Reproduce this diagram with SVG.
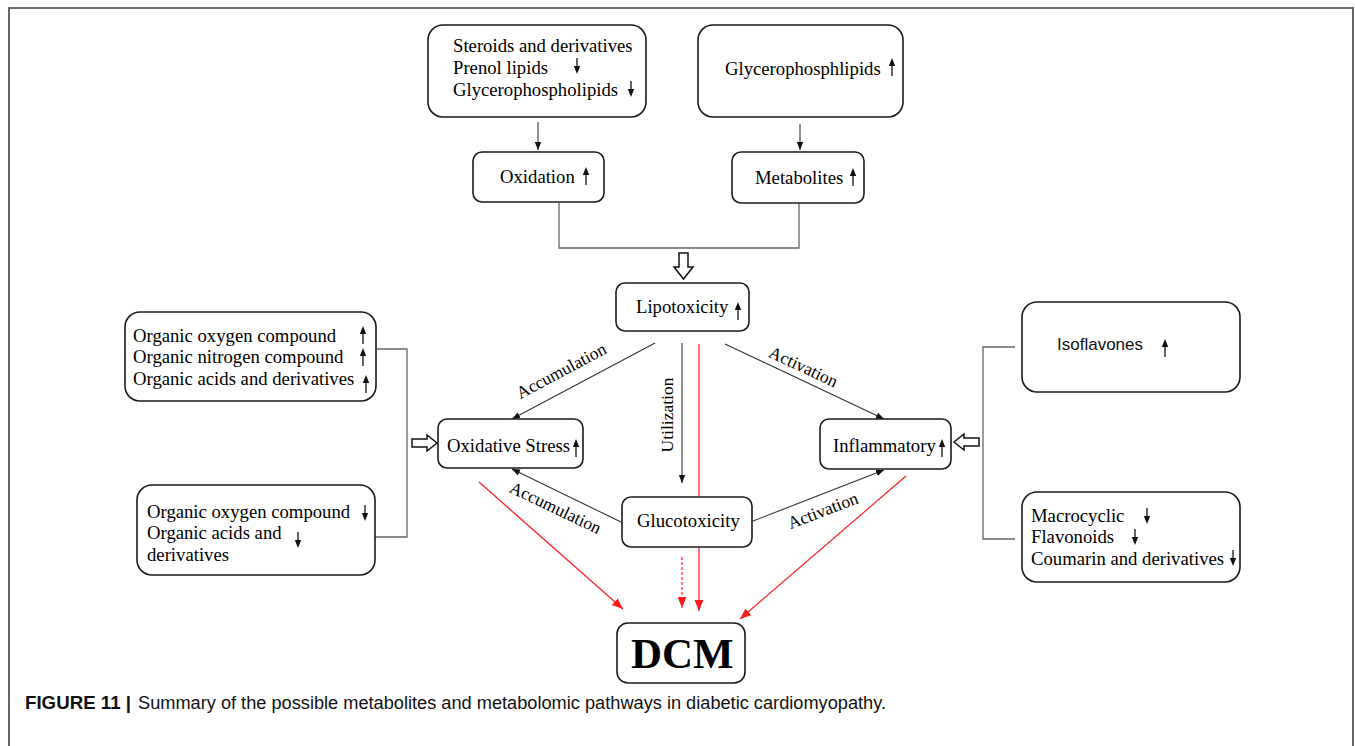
<svg xmlns="http://www.w3.org/2000/svg" xmlns:xlink="http://www.w3.org/1999/xlink" width="1355" height="746" viewBox="0 0 1355 746">
<style>
.box{fill:#fff;stroke:#1a1a1a;stroke-width:1.6}
.t{font-family:"Liberation Serif","Times New Roman",serif;font-size:18.7px;fill:#000}
.lbl{font-family:"Liberation Serif","Times New Roman",serif;font-size:17.5px;fill:#000}
.sans{font-family:"Liberation Sans",Arial,sans-serif;font-size:17px;fill:#111}
.blk{stroke:#333;stroke-width:1.1;fill:none}
.gray{stroke:#666;stroke-width:1.3;fill:none}
.red{stroke:#ff1a1a;stroke-width:1.2;fill:none}
.hollow{fill:#fff;stroke:#111;stroke-width:1.5}
.cap{font-family:"Liberation Sans",Arial,sans-serif;font-size:17.5px;fill:#111}
</style>
<defs>
<marker id="ab" viewBox="0 0 10 10" refX="10" refY="5" markerWidth="8" markerHeight="8" markerUnits="userSpaceOnUse" orient="auto"><path d="M0,1 L10,5 L0,9 z" fill="#111"/></marker>
<marker id="ar" viewBox="0 0 10 10" refX="10" refY="5" markerWidth="11" markerHeight="11" markerUnits="userSpaceOnUse" orient="auto"><path d="M0,1 L10,5 L0,9 z" fill="#ff1a1a"/></marker>
<g id="up"><line x1="0" y1="0" x2="0" y2="-11" stroke="#111" stroke-width="1.3"/><path d="M-3.2,-10 L3.2,-10 L0,-18 z" fill="#111"/></g>
<g id="dn"><line x1="0" y1="0" x2="0" y2="9" stroke="#111" stroke-width="1.3"/><path d="M-3.2,8 L3.2,8 L0,16 z" fill="#111"/></g>
</defs>
<rect width="1355" height="746" fill="#fff"/>
<path d="M9,746 V8 H1353 V746" fill="none" stroke="#666" stroke-width="2"/>

<g id="connectors">
<line class="blk" x1="538" y1="122" x2="538" y2="150" marker-end="url(#ab)"/>
<line class="blk" x1="800" y1="124" x2="800" y2="150" marker-end="url(#ab)"/>
<path class="gray" d="M559,203 V248 H799 V203"/>
<path class="hollow" d="M679,253 H688 V267 H693 L683.5,279 L674,267 H679 Z"/>
<line class="blk" x1="655" y1="343" x2="512" y2="419" marker-end="url(#ab)"/>
<line class="blk" x1="682" y1="343" x2="682" y2="483" marker-end="url(#ab)"/>
<line class="blk" x1="725" y1="344" x2="884" y2="419" marker-end="url(#ab)"/>
<line class="red" x1="699" y1="344" x2="699" y2="611" marker-end="url(#ar)"/>
<line class="blk" x1="621" y1="522" x2="512" y2="469" marker-end="url(#ab)"/>
<line class="blk" x1="753" y1="521" x2="884" y2="470" marker-end="url(#ab)"/>
<line class="red" x1="479" y1="482" x2="623" y2="609" marker-end="url(#ar)"/>
<line class="red" x1="682" y1="557" x2="682" y2="608" stroke-dasharray="3,2" marker-end="url(#ar)"/>
<line class="red" x1="906" y1="476" x2="740" y2="619" marker-end="url(#ar)"/>
<path class="gray" d="M377,349 H407 V537 H375"/>
<path class="hollow" d="M412,439 H427 V435 L437,443 L427,451 V447 H412 Z"/>
<path class="gray" d="M1015,347 H983 V539 H1015"/>
<path class="hollow" d="M979,438 H964 V434 L954,442 L964,450 V446 H979 Z"/>
<text class="lbl" transform="translate(564,376) rotate(-28)" text-anchor="middle">Accumulation</text>
<text class="lbl" transform="translate(801,372) rotate(25)" text-anchor="middle">Activation</text>
<text class="lbl" transform="translate(673,415) rotate(-90)" text-anchor="middle">Utilization</text>
<text class="lbl" transform="translate(553,513) rotate(25.5)" text-anchor="middle">Accumulation</text>
<text class="lbl" transform="translate(825,516) rotate(-21)" text-anchor="middle">Activation</text>
</g>

<g id="node-lipids-left">
<rect class="box" x="428" y="25" width="218" height="92" rx="15"/>
<text class="t" x="453" y="52">Steroids and derivatives</text>
<text class="t" x="453" y="74">Prenol lipids</text>
<text class="t" x="453" y="96">Glycerophospholipids</text>
<use href="#dn" x="577" y="58"/>
<use href="#dn" x="631" y="81"/>
</g>
<g id="node-lipids-right">
<rect class="box" x="698" y="25" width="205" height="92" rx="15"/>
<text class="t" x="725" y="75">Glycerophosphlipids</text>
<use href="#up" x="892" y="76"/>
</g>
<g id="node-oxidation">
<rect class="box" x="473" y="152" width="131" height="50" rx="9"/>
<text class="t" x="500" y="183">Oxidation</text>
<use href="#up" x="586" y="185"/>
</g>
<g id="node-metabolites">
<rect class="box" x="732" y="152" width="132" height="51" rx="9"/>
<text class="t" x="755" y="184">Metabolites</text>
<use href="#up" x="853" y="186"/>
</g>
<g id="node-lipotoxicity">
<rect class="box" x="616" y="283" width="133" height="48" rx="9"/>
<text class="t" x="636" y="313">Lipotoxicity</text>
<use href="#up" x="738" y="320"/>
</g>
<g id="node-oxidative-stress">
<rect class="box" x="438" y="419" width="145" height="49" rx="9"/>
<text class="t" x="447" y="452">Oxidative Stress</text>
<use href="#up" x="576" y="457"/>
</g>
<g id="node-inflammatory">
<rect class="box" x="820" y="419" width="131" height="50" rx="9"/>
<text class="t" x="833" y="452">Inflammatory</text>
<use href="#up" x="942" y="457"/>
</g>
<g id="node-glucotoxicity">
<rect class="box" x="622" y="497" width="130" height="50" rx="9"/>
<text class="t" x="637" y="527">Glucotoxicity</text>
</g>
<g id="node-dcm">
<rect class="box" x="617" y="623" width="128" height="60" rx="11"/>
<text x="631" y="668" font-family="'Liberation Serif','Times New Roman',serif" font-size="43" font-weight="bold" fill="#000">DCM</text>
</g>
<g id="node-organic-up">
<rect class="box" x="125" y="312" width="251" height="89" rx="15"/>
<text class="t" x="133" y="342">Organic oxygen compound</text>
<text class="t" x="133" y="363">Organic nitrogen compound</text>
<text class="t" x="133" y="385">Organic acids and derivatives</text>
<use href="#up" x="363" y="344"/>
<use href="#up" x="363" y="366"/>
<use href="#up" x="366" y="393"/>
</g>
<g id="node-organic-down">
<rect class="box" x="137" y="485" width="238" height="90" rx="15"/>
<text class="t" x="147" y="518">Organic oxygen compound</text>
<text class="t" x="147" y="539">Organic acids and</text>
<text class="t" x="147" y="561">derivatives</text>
<use href="#dn" x="365" y="505"/>
<use href="#dn" x="298" y="532"/>
</g>
<g id="node-isoflavones">
<rect class="box" x="1022" y="302" width="218" height="90" rx="15"/>
<text class="sans" x="1057" y="350">Isoflavones</text>
<use href="#up" x="1165" y="357"/>
</g>
<g id="node-flavonoids">
<rect class="box" x="1022" y="492" width="218" height="90" rx="15"/>
<text class="t" x="1031" y="522">Macrocyclic</text>
<text class="t" x="1031" y="543">Flavonoids</text>
<text class="t" x="1031" y="565">Coumarin and derivatives</text>
<use href="#dn" x="1147" y="508"/>
<use href="#dn" x="1135" y="529"/>
<use href="#dn" x="1233" y="550"/>
</g>

<g id="caption">
<text class="cap" x="25" y="709" font-weight="bold" textLength="106" lengthAdjust="spacingAndGlyphs">FIGURE 11 |</text>
<text class="cap" x="138" y="709" textLength="748" lengthAdjust="spacingAndGlyphs">Summary of the possible metabolites and metabolomic pathways in diabetic cardiomyopathy.</text>
</g>
</svg>
